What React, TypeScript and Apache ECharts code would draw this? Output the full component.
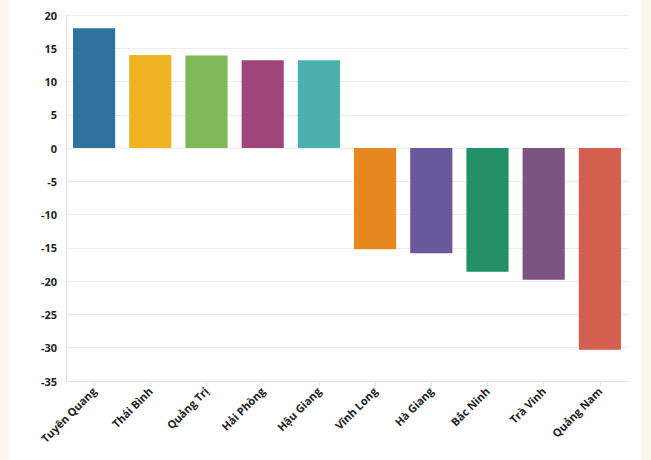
import React, { useEffect, useRef } from "react";
import * as echarts from "echarts";

const provinces = [
  "Tuyên Quang",
  "Thái Bình",
  "Quảng Trị",
  "Hải Phòng",
  "Hậu Giang",
  "Vĩnh Long",
  "Hà Giang",
  "Bắc Ninh",
  "Trà Vinh",
  "Quảng Nam",
];
const values = [18.0, 14.0, 13.9, 13.2, 13.2, -15.2, -15.8, -18.6, -19.8, -30.3];
const barColors = [
  "#2f719f",
  "#f0b323",
  "#7eb857",
  "#a0457b",
  "#4bb1ae",
  "#e5891e",
  "#6b579b",
  "#24906a",
  "#7c5381",
  "#d3604f",
];

export default function App() {
  const ref = useRef<HTMLDivElement>(null);

  useEffect(() => {
    document.body.style.margin = "0";
    const chart = echarts.init(ref.current!, undefined, { renderer: "svg" });
    chart.setOption({
      animation: false,
      grid: { left: 66, right: 23, top: 15, bottom: 79 },
      xAxis: {
        type: "category",
        data: provinces,
        axisLine: { show: true, onZero: false, lineStyle: { color: "#e3e3e3" } },
        axisTick: { show: true, alignWithLabel: true, length: 5, lineStyle: { color: "#e3e3e3" } },
        axisLabel: {
          rotate: 45,
          interval: 0,
          margin: 8,
          color: "#222",
          fontFamily: "Open Sans",
          fontWeight: "bold",
          fontSize: 11,
        },
      },
      yAxis: {
        type: "value",
        min: -35,
        max: 20,
        interval: 5,
        axisLine: { show: true, lineStyle: { color: "#e3e3e3" } },
        axisTick: { show: false },
        splitLine: { lineStyle: { color: "#ececec" } },
        axisLabel: {
          margin: 9,
          color: "#222",
          fontFamily: "Open Sans",
          fontWeight: "bold",
          fontSize: 11,
        },
      },
      series: [
        {
          type: "bar",
          barWidth: "75%",
          data: values.map((v, i) => ({ value: v, itemStyle: { color: barColors[i] } })),
        },
      ],
    });
    return () => chart.dispose();
  }, []);

  return (
    <div style={{ position: "relative", width: 651, height: 460, background: "#fdf6ea" }}>
      <div style={{ position: "absolute", left: 9, top: 0, width: 633, height: 460, background: "#ffffff" }} />
      <div ref={ref} style={{ position: "absolute", left: 0, top: 0, width: 651, height: 460 }} />
    </div>
  );
}
